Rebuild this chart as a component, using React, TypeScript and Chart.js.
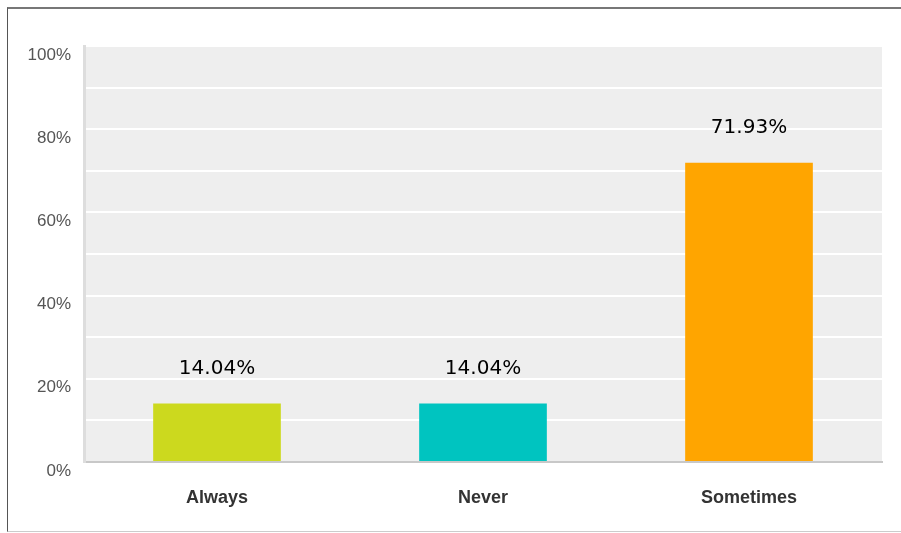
import React, { useEffect, useRef } from "react";
import { Chart, registerables } from "chart.js";

Chart.register(...registerables);

const categories = ["Always", "Never", "Sometimes"];
const percentages = [14.04, 14.04, 71.93];
const barColors = ["#CCD91E", "#00C4C0", "#FFA500"];
const yTickValues = [0, 20, 40, 60, 80, 100];

const bgPlugin = {
  id: "plotBg",
  beforeDraw(chart: any) {
    const { ctx, chartArea } = chart;
    ctx.save();
    ctx.fillStyle = "#EEEEEE";
    ctx.fillRect(chartArea.left, chartArea.top, chartArea.right - chartArea.left, chartArea.bottom - chartArea.top);
    ctx.restore();
  },
};

const valueLabelPlugin = {
  id: "valueLabels",
  afterDatasetsDraw(chart: any) {
    const { ctx } = chart;
    const meta = chart.getDatasetMeta(0);
    ctx.save();
    ctx.font = "20px 'DejaVu Sans'";
    ctx.fillStyle = "#000000";
    ctx.textAlign = "center";
    ctx.textBaseline = "alphabetic";
    meta.data.forEach((bar: any, i: number) => {
      ctx.fillText(percentages[i].toFixed(2) + "%", bar.x, bar.y - 30);
    });
    ctx.restore();
  },
};

export default function App() {
  const ref = useRef<HTMLCanvasElement>(null);
  useEffect(() => {
    if (!ref.current) return;
    const chart = new Chart(ref.current, {
      type: "bar",
      data: {
        labels: categories,
        datasets: [
          {
            data: percentages,
            backgroundColor: barColors,
            borderWidth: 0,
            barPercentage: 0.48,
            categoryPercentage: 1,
          },
        ],
      },
      options: {
        responsive: false,
        animation: false,
        layout: { padding: { left: 0, right: 19, top: 46, bottom: 0 } },
        plugins: { legend: { display: false }, tooltip: { enabled: false } },
        scales: {
          x: {
            grid: { display: false, drawTicks: false },
            border: { display: true, color: "#c8c8c8", width: 2 },
            ticks: {
              color: "#333333",
              font: { family: "'Liberation Sans', Arial, sans-serif", size: 18, weight: "bold" },
              padding: 25,
            },
            afterFit: (s: any) => {
              s.height = 71;
            },
          },
          y: {
            min: 0,
            max: 100,
            ticks: {
              stepSize: 10,
              color: "#555555",
              font: { family: "'Liberation Sans', Arial, sans-serif", size: 17 },
              padding: 13,
              labelOffset: 9,
              autoSkip: false,
              callback: (v: any) => (yTickValues.includes(Number(v)) ? v + "%" : ""),
            },
            grid: { color: "#ffffff", lineWidth: 2, drawTicks: false },
            border: { display: true, color: "#dddddd", width: 3 },
            afterFit: (s: any) => {
              s.width = 84;
            },
          },
        },
      },
      plugins: [bgPlugin, valueLabelPlugin],
    });
    return () => chart.destroy();
  }, []);

  return (
    <div style={{ position: "absolute", left: 0, top: 0, width: 901, height: 533, background: "#fff" }}>
      <div
        style={{
          position: "absolute",
          left: 7,
          top: 7,
          width: 894,
          height: 525,
          boxSizing: "border-box",
          borderLeft: "1px solid #555",
          borderTop: "2px solid #777",
          borderBottom: "1px solid #ccc",
        }}
      />
      <canvas ref={ref} width={901} height={533} style={{ position: "absolute", left: 0, top: 0 }} />
    </div>
  );
}
